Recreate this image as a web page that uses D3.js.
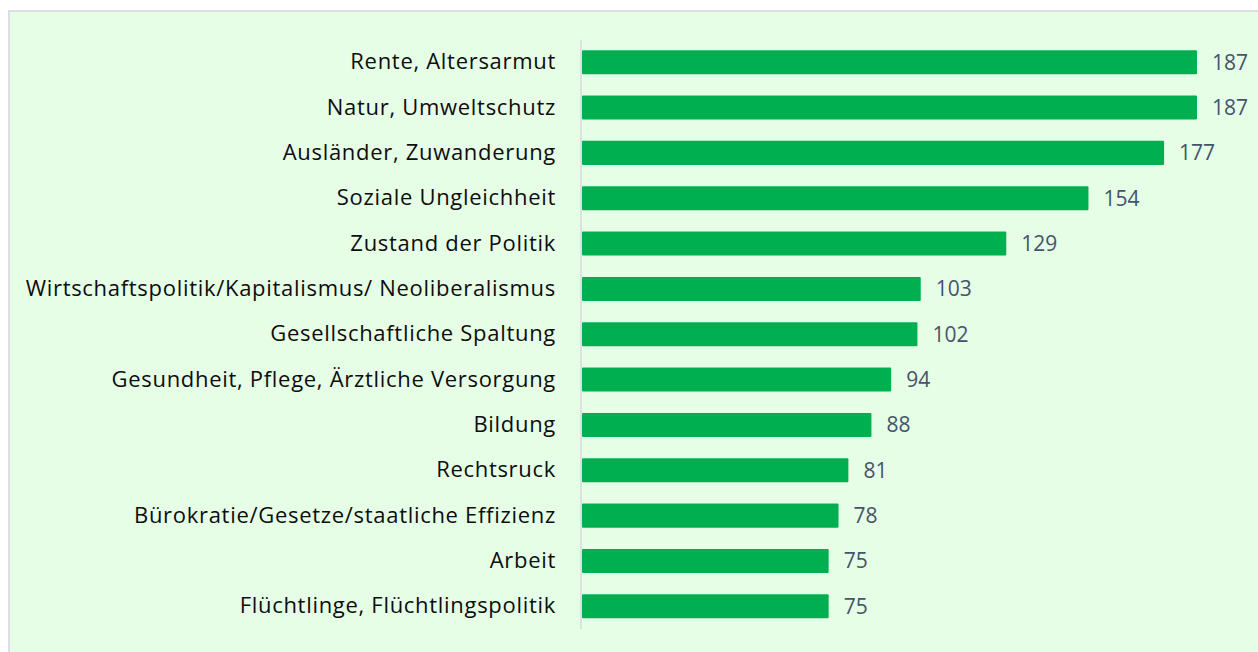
<!DOCTYPE html>
<html>
<head>
<meta charset="utf-8">
<script src="https://cdn.jsdelivr.net/npm/d3@7"></script>
<style>
  body { margin: 0; background: #ffffff; }
  svg { display: block; }
  text { font-family: "Open Sans", "Noto Sans", sans-serif; }
</style>
</head>
<body>
<div id="chart"></div>
<script>
// categories, top to bottom
const categories = [
    'Rente, Altersarmut',
    'Natur, Umweltschutz',
    'Ausländer, Zuwanderung',
    'Soziale Ungleichheit',
    'Zustand der Politik',
    'Wirtschaftspolitik/Kapitalismus/ Neoliberalismus',
    'Gesellschaftliche Spaltung',
    'Gesundheit, Pflege, Ärztliche Versorgung',
    'Bildung',
    'Rechtsruck',
    'Bürokratie/Gesetze/staatliche Effizienz',
    'Arbeit',
    'Flüchtlinge, Flüchtlingspolitik'
];
const values = [187, 187, 177, 154, 129, 103, 102, 94, 88, 81, 78, 75, 75];

const width = 1258, height = 652;
const margin = { top: 39.5, bottom: 23, left: 581, right: 61 };

const svg = d3.select('#chart').append('svg')
    .attr('width', width)
    .attr('height', height);

// panel background + border
svg.append('rect')
    .attr('x', 9).attr('y', 11)
    .attr('width', width).attr('height', height)
    .attr('fill', '#e6fde6')
    .attr('stroke', '#dcdde8')
    .attr('stroke-width', 2);

const x = d3.scaleLinear()
    .domain([0, 187])
    .range([margin.left + 1, 1197]);

const y = d3.scaleBand()
    .domain(categories)
    .range([margin.top, height - margin.bottom])
    .paddingInner(0.47)
    .paddingOuter(0.235);

const data = categories.map((c, i) => ({ cat: c, val: values[i] }));

svg.selectAll('.bar')
    .data(data)
    .enter().append('rect')
    .attr('class', 'bar')
    .attr('x', x(0))
    .attr('y', d => y(d.cat))
    .attr('width', d => x(d.val) - x(0))
    .attr('height', y.bandwidth())
    .attr('rx', 1)
    .attr('fill', '#00b050');

// axis line
const yAxis = svg.append('g')
    .attr('transform', `translate(${margin.left},0)`)
    .call(d3.axisLeft(y).tickSize(0).tickPadding(25));
yAxis.select('.domain')
    .attr('d', `M0,${margin.top}V${height - margin.bottom}`)
    .attr('stroke', '#d9d9de')
    .attr('stroke-width', 1.5);
yAxis.selectAll('text')
    .attr('font-size', 22)
    .attr('letter-spacing', 0.7)
    .attr('fill', '#0d0d0d')
    .style('font-family', '"Open Sans", "Noto Sans", sans-serif');

// value labels
svg.selectAll('.val')
    .data(data)
    .enter().append('text')
    .attr('class', 'val')
    .attr('x', d => x(d.val) + 15)
    .attr('y', d => y(d.cat) + y.bandwidth() / 2)
    .attr('dy', '0.35em')
    .attr('font-size', 21)
    .attr('fill', '#44546a')
    .text(d => d.val);
</script>
</body>
</html>
